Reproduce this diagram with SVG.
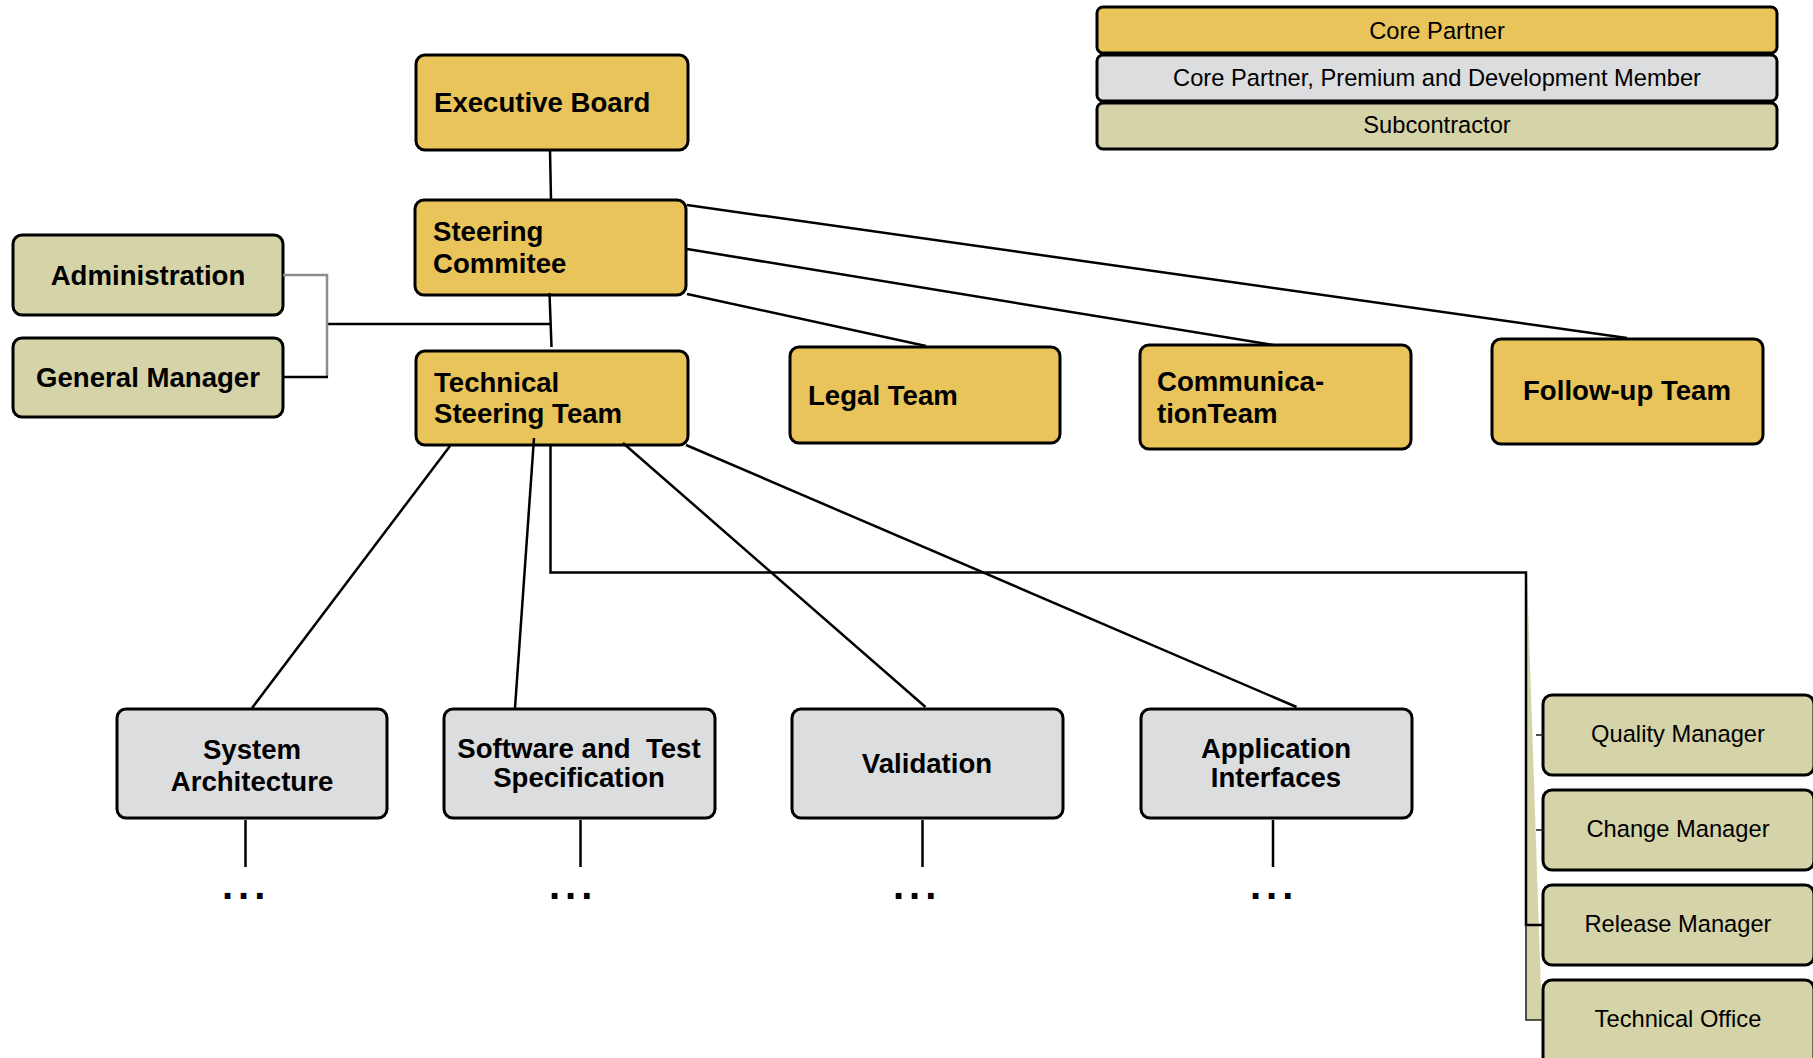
<svg xmlns="http://www.w3.org/2000/svg" width="1813" height="1058" viewBox="0 0 1813 1058">
  <style>
    .box { stroke: #000; stroke-width: 3; }
    .core { fill: #E8C45A; }
    .member { fill: #DCDDDF; }
    .sub { fill: #D5D3A8; }
    .title { font-family: "Liberation Sans", Arial, sans-serif; font-weight: bold; font-size: 27.6px; fill: #000; }
    .label { font-family: "Liberation Sans", Arial, sans-serif; font-size: 23.7px; fill: #000; text-anchor: middle; }
    .mid { text-anchor: middle; }
    .dots { font-family: "Liberation Sans", Arial, sans-serif; font-weight: bold; font-size: 40px; letter-spacing: 5px; fill: #000; }
    .link { stroke: #000; stroke-width: 2.5; fill: none; }
    .thin { stroke: #222; stroke-width: 1.6; fill: none; }
    .grey { stroke: #8C8C8C; stroke-width: 2.5; fill: none; }
  </style>

  <!-- legend -->
  <g id="legend">
    <rect class="box core" x="1097" y="7" width="680" height="46" rx="6"/>
    <text class="label" x="1437" y="39">Core Partner</text>
    <rect class="box member" x="1097" y="55" width="680" height="46" rx="6"/>
    <text class="label" x="1437" y="86">Core Partner, Premium and Development Member</text>
    <rect class="box sub" x="1097" y="103" width="680" height="46" rx="6"/>
    <text class="label" x="1437" y="133">Subcontractor</text>
  </g>

  <!-- support wedge behind the management column -->
  <polygon id="mgmt-wedge" class="sub" points="1527,575 1542,1020 1527,1020"/>

  <!-- top hierarchy -->
  <g id="executive-board">
    <rect class="box core" x="416" y="55" width="272" height="95" rx="9"/>
    <text class="title" x="434" y="112">Executive Board</text>
  </g>
  <g id="steering-committee">
    <rect class="box core" x="415" y="200" width="271" height="95" rx="9"/>
    <text class="title" x="433" y="241">Steering</text>
    <text class="title" x="433" y="273">Commitee</text>
  </g>
  <g id="technical-steering-team">
    <rect class="box core" x="416" y="351" width="272" height="94" rx="9"/>
    <text class="title" x="434" y="392">Technical</text>
    <text class="title" x="434" y="423">Steering Team</text>
  </g>

  <!-- staff -->
  <g id="administration">
    <rect class="box sub" x="13" y="235" width="270" height="80" rx="9"/>
    <text class="title mid" x="148" y="285">Administration</text>
  </g>
  <g id="general-manager">
    <rect class="box sub" x="13" y="338" width="270" height="79" rx="9"/>
    <text class="title mid" x="148" y="387">General Manager</text>
  </g>

  <!-- teams under the steering committee -->
  <g id="legal-team">
    <rect class="box core" x="790" y="347" width="270" height="96" rx="9"/>
    <text class="title" x="808" y="405">Legal Team</text>
  </g>
  <g id="communication-team">
    <rect class="box core" x="1140" y="345" width="271" height="104" rx="9"/>
    <text class="title" x="1157" y="391">Communica-</text>
    <text class="title" x="1157" y="423">tionTeam</text>
  </g>
  <g id="follow-up-team">
    <rect class="box core" x="1492" y="339" width="271" height="105" rx="9"/>
    <text class="title mid" x="1627" y="400">Follow-up Team</text>
  </g>

  <!-- work streams -->
  <g id="system-architecture">
    <rect class="box member" x="117" y="709" width="270" height="109" rx="9"/>
    <text class="title mid" x="252" y="759">System</text>
    <text class="title mid" x="252" y="791">Architecture</text>
    <text class="dots" x="222" y="899">...</text>
  </g>
  <g id="software-test-specification">
    <rect class="box member" x="444" y="709" width="271" height="109" rx="9"/>
    <text class="title mid" x="579" y="758" xml:space="preserve">Software and  Test</text>
    <text class="title mid" x="579" y="787">Specification</text>
    <text class="dots" x="549" y="899">...</text>
  </g>
  <g id="validation">
    <rect class="box member" x="792" y="709" width="271" height="109" rx="9"/>
    <text class="title mid" x="927" y="773">Validation</text>
    <text class="dots" x="893" y="899">...</text>
  </g>
  <g id="application-interfaces">
    <rect class="box member" x="1141" y="709" width="271" height="109" rx="9"/>
    <text class="title mid" x="1276" y="758">Application</text>
    <text class="title mid" x="1276" y="787">Interfaces</text>
    <text class="dots" x="1250" y="899">...</text>
  </g>

  <!-- management roles -->
  <g id="quality-manager">
    <rect class="box sub" x="1543" y="695" width="271" height="80" rx="9"/>
    <text class="label" x="1678" y="742">Quality Manager</text>
  </g>
  <g id="change-manager">
    <rect class="box sub" x="1543" y="790" width="271" height="80" rx="9"/>
    <text class="label" x="1678" y="837">Change Manager</text>
  </g>
  <g id="release-manager">
    <rect class="box sub" x="1543" y="885" width="271" height="80" rx="9"/>
    <text class="label" x="1678" y="932">Release Manager</text>
  </g>
  <g id="technical-office">
    <rect class="box sub" x="1543" y="980" width="271" height="90" rx="9"/>
    <text class="label" x="1678" y="1027">Technical Office</text>
  </g>

  <!-- connectors -->
  <g id="connectors">
    <line class="link" x1="550" y1="150" x2="551" y2="200"/>
    <line class="link" x1="549.5" y1="293" x2="551.5" y2="347"/>
    <line class="link" x1="327" y1="324" x2="550" y2="324"/>
    <polyline class="grey" points="283,275 327,275 327,377"/>
    <line class="link" x1="283" y1="377" x2="328" y2="377"/>

    <line class="link" x1="687" y1="205" x2="1627" y2="338"/>
    <line class="link" x1="687" y1="249" x2="1273" y2="345"/>
    <line class="link" x1="687" y1="294" x2="926" y2="346"/>

    <line class="link" x1="450" y1="446" x2="252" y2="708"/>
    <line class="link" x1="534" y1="438" x2="515" y2="708"/>
    <line class="link" x1="623" y1="443" x2="925.5" y2="707"/>
    <line class="link" x1="686" y1="445" x2="1296.5" y2="707"/>

    <polyline class="link" points="550.5,446 550.5,572.5 1526,572.5 1526,925 1543,925"/>
    <polyline class="thin" points="1526,925 1526,1020 1543,1020"/>
    <line class="thin" x1="1536" y1="735" x2="1543" y2="735"/>
    <line class="thin" x1="1536" y1="830" x2="1543" y2="830"/>

    <line class="link" x1="245.5" y1="820" x2="245.5" y2="867"/>
    <line class="link" x1="580.5" y1="820" x2="580.5" y2="867"/>
    <line class="link" x1="922.5" y1="820" x2="922.5" y2="867"/>
    <line class="link" x1="1273" y1="820" x2="1273" y2="867"/>
  </g>
</svg>
